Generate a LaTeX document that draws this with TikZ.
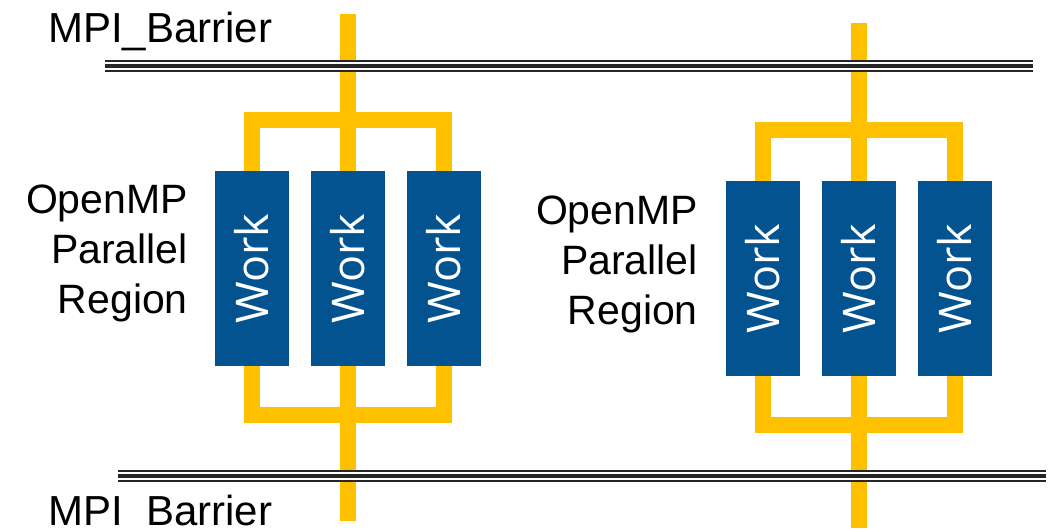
\documentclass[tikz,border=0pt]{standalone}
\usepackage{fontspec}
\setmainfont{Liberation Sans}
\newfontfamily\workfont{Open Sans}
\usetikzlibrary{positioning}

\definecolor{workblue}{HTML}{02538F}
\definecolor{forkgold}{HTML}{FFC000}
\definecolor{barrierline}{HTML}{262626}

\begin{document}
\begin{tikzpicture}[
    x=1pt, y=-1pt,
    node distance=21.5pt,
    workbox/.style={fill=workblue, minimum width=74pt, minimum height=195pt, inner sep=0pt, text=white, font=\workfont\fontsize{45}{54}\selectfont},
    wire/.style={draw=forkgold, line width=16pt, line join=miter},
    barrier/.style={preaction={draw=barrierline, line width=12pt}, draw=white, line width=8pt, postaction={draw=barrierline, line width=4pt}},
    mpilabel/.style={anchor=base west, inner sep=0pt, font=\fontsize{42}{50}\selectfont},
    regionlabel/.style={anchor=east, align=right, inner sep=0pt, font=\fontsize{41}{50}\selectfont}
]
    \useasboundingbox (0,0) rectangle (1056,528);

    % Left process: fork, three workers, join.
    \node[workbox] (l1) at (252,268.5) {\rotatebox{90}{Work}};
    \node[workbox, right=of l1] (l2) {\rotatebox{90}{Work}};
    \node[workbox, right=of l2] (l3) {\rotatebox{90}{Work}};
    \node[regionlabel] (lregion) at (188,253) {OpenMP\\Parallel\\Region};

    % Right process sits a little lower.
    \node[workbox] (r1) at (763,278.5) {\rotatebox{90}{Work}};
    \node[workbox, right=of r1] (r2) {\rotatebox{90}{Work}};
    \node[workbox, right=of r2] (r3) {\rotatebox{90}{Work}};
    \node[regionlabel] (rregion) at (698,264) {OpenMP\\Parallel\\Region};

    \coordinate (lin)   at (l2.center |- 0,14);
    \coordinate (lfork) at (l2.center |- 0,120);
    \coordinate (ljoin) at (l2.center |- 0,415);
    \coordinate (lout)  at (l2.center |- 0,521);
    \coordinate (rin)   at (r2.center |- 0,23);
    \coordinate (rfork) at (r2.center |- 0,130);
    \coordinate (rjoin) at (r2.center |- 0,425);
    \coordinate (rout)  at (r2.center |- 0,528);

    \draw[wire] (lin) -- (lfork) -- (l2.north);
    \draw[wire] (l1.north) |- (lfork) -| (l3.north);
    \draw[wire] (l2.south) -- (ljoin) -- (lout);
    \draw[wire] (l1.south) |- (ljoin) -| (l3.south);

    \draw[wire] (rin) -- (rfork) -- (r2.north);
    \draw[wire] (r1.north) |- (rfork) -| (r3.north);
    \draw[wire] (r2.south) -- (rjoin) -- (rout);
    \draw[wire] (r1.south) |- (rjoin) -| (r3.south);

    % Barriers cross over both processes.
    \coordinate (topw) at (105,66);
    \coordinate (tope) at (1033,66);
    \coordinate (botw) at (118,476);
    \coordinate (bote) at (1046,476);
    \draw[barrier] (topw) -- (tope);
    \draw[barrier] (botw) -- (bote);

    \node[mpilabel] (topmpi) at (48,42) {MPI\_Barrier};
    \node[mpilabel] (botmpi) at (48,525) {MPI\_Barrier};

\end{tikzpicture}
\end{document}
